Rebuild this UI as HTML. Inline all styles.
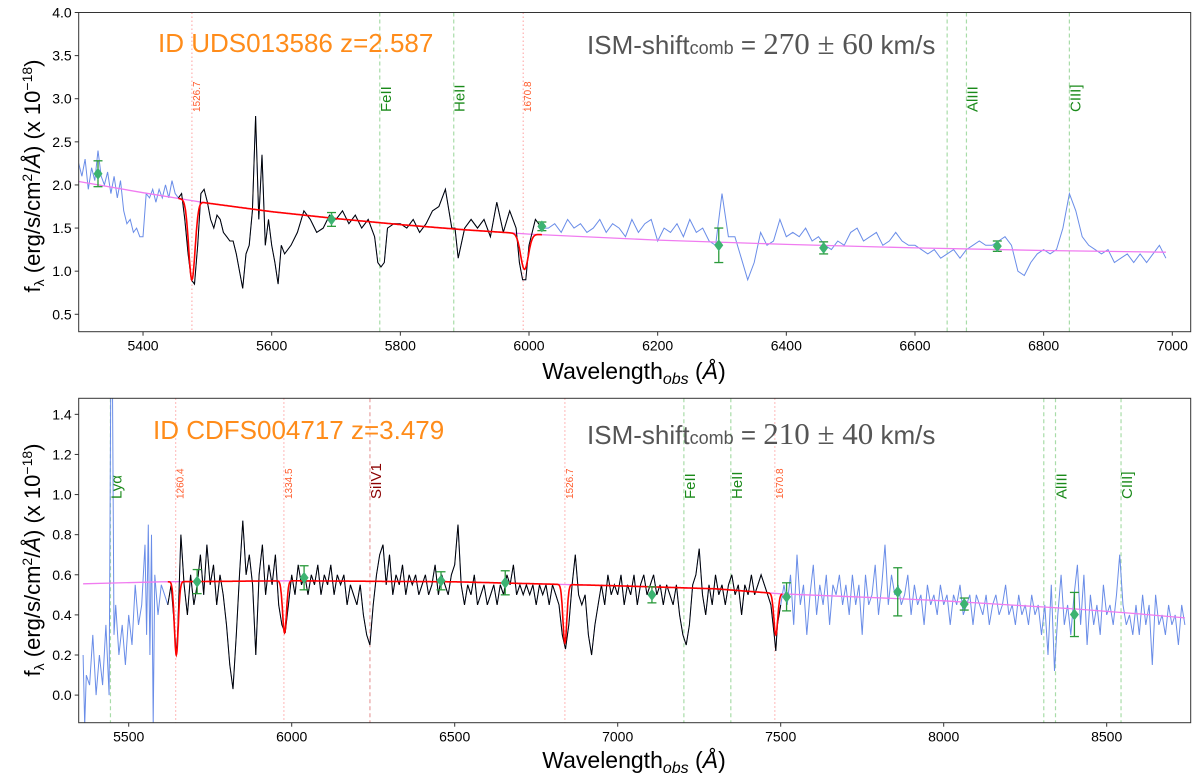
<!DOCTYPE html>
<html><head><meta charset="utf-8"><style>
html,body{margin:0;padding:0;background:#fff;}
svg{display:block;font-family:"Liberation Sans","DejaVu Sans",sans-serif;}
</style></head><body>
<svg id="chart" width="1200" height="781" viewBox="0 0 1200 781" xmlns="http://www.w3.org/2000/svg">
<defs>
<clipPath id="clipTop"><rect x="78.7" y="12.5" width="1112" height="319.2"/></clipPath>
<clipPath id="clipBot"><rect x="78.7" y="398.3" width="1112" height="324.4"/></clipPath>
</defs>
</svg>
<script>
// ---------- TOP PANEL DATA ----------
const topWave = [5300,5305,5310,5315,5320,5325,5330,5335,5340,5345,5350,5355,5360,5365,5370,5375,5380,5385,5390,5395,5400,5405,5410,5415,5420,5425,5430,5435,5440,5445,5450,5455,5460,5465,5470,5475,5480,5485,5490,5495,5500,5505,5510,5515,5520,5525,5530,5535,5540,5545,5550,5555,5560,5565,5570,5575,5580,5585,5590,5595,5600,5605,5610,5615,5620,5630,5640,5650,5660,5670,5680,5690,5700,5710,5720,5730,5740,5750,5760,5765,5770,5775,5780,5790,5800,5810,5820,5830,5840,5850,5860,5870,5880,5885,5890,5900,5910,5920,5930,5940,5950,5960,5970,5980,5985,5990,5995,6000,6010,6020,6030,6040,6050,6060,6070,6080,6090,6100,6110,6120,6130,6140,6150,6160,6170,6180,6190,6200,6210,6220,6230,6240,6250,6260,6270,6280,6290,6300,6310,6320,6330,6340,6350,6360,6370,6380,6390,6400,6410,6420,6430,6440,6450,6460,6470,6480,6490,6500,6510,6520,6530,6540,6550,6560,6570,6580,6590,6600,6610,6620,6630,6640,6650,6660,6670,6680,6690,6700,6710,6720,6730,6740,6750,6760,6770,6780,6790,6800,6810,6820,6830,6840,6850,6860,6870,6880,6890,6900,6910,6920,6930,6940,6950,6960,6970,6980,6990];
const topFlux = [2.25,2.1,2.3,1.95,2.2,2.05,2.4,2.1,2.0,2.15,1.9,2.1,1.85,2.05,1.7,1.55,1.6,1.45,1.5,1.4,1.4,1.9,1.85,1.95,1.8,1.95,1.85,2.0,1.85,2.05,1.9,1.85,1.9,1.6,1.2,0.9,0.85,1.3,1.9,1.95,1.8,1.6,1.5,1.65,1.6,1.45,1.4,1.35,1.35,1.2,1.0,0.8,1.2,1.3,1.7,2.8,1.6,2.35,1.3,1.6,1.3,1.1,0.85,1.3,1.2,1.3,1.45,1.7,1.6,1.45,1.5,1.65,1.6,1.7,1.55,1.65,1.5,1.6,1.4,1.1,1.05,1.1,1.5,1.55,1.55,1.5,1.6,1.45,1.55,1.7,1.75,1.95,1.5,1.5,1.15,1.5,1.6,1.5,1.6,1.4,1.8,1.45,1.7,1.5,1.1,0.9,0.9,1.3,1.6,1.5,1.5,1.55,1.45,1.6,1.5,1.55,1.45,1.5,1.6,1.45,1.55,1.5,1.4,1.6,1.45,1.55,1.6,1.35,1.5,1.45,1.55,1.4,1.6,1.45,1.5,1.35,1.3,1.9,1.4,1.4,1.15,0.9,1.1,1.45,1.3,1.35,1.6,1.4,1.45,1.4,1.5,1.35,1.4,1.3,1.25,1.35,1.3,1.45,1.5,1.35,1.4,1.45,1.3,1.35,1.45,1.35,1.3,1.3,1.25,1.2,1.25,1.15,1.2,1.25,1.15,1.25,1.3,1.35,1.3,1.3,1.35,1.4,1.3,1.0,0.95,1.1,1.2,1.25,1.2,1.25,1.5,1.9,1.7,1.4,1.3,1.25,1.2,1.25,1.1,1.15,1.2,1.1,1.2,1.1,1.2,1.3,1.15,1.2];
const topBlackRange = [5455, 6020];
const topContWave = [5300,5400,5500,5600,5700,5800,5900,6000,6200,6400,6600,6800,6990];
const topContFlux = [2.04,1.91,1.79,1.69,1.61,1.54,1.48,1.43,1.36,1.31,1.27,1.24,1.22];
const topFitRange = [5455, 6020];
const topDipCenter = [5476, 5993];
const topDipMin = [0.9, 1.02];
const topDipSigma = [5, 6];
const topPtWave = [5330, 5693, 6020, 6295, 6458, 6728];
const topPtFlux = [2.13, 1.60, 1.52, 1.30, 1.27, 1.29];
const topPtErr = [0.15, 0.08, 0.05, 0.20, 0.07, 0.06];
const topLineWave = [5476, 5991, 5768, 5883, 6650, 6680, 6840];
const topLineLabel = ["1526.7", "1670.8", "FeII", "HeII", "", "AlIII", "CIII]"];
const topLineKind = ["ism", "ism", "em", "em", "em", "em", "em"];
const topXTicks = [5400, 5600, 5800, 6000, 6200, 6400, 6600, 6800, 7000];
const topYTicks = [0.5, 1.0, 1.5, 2.0, 2.5, 3.0, 3.5, 4.0];

// ---------- BOTTOM PANEL DATA ----------
const botWave = [5360,5365,5370,5380,5390,5400,5410,5420,5430,5440,5445,5450,5455,5460,5470,5480,5490,5500,5510,5520,5530,5540,5550,5555,5560,5565,5570,5575,5580,5590,5600,5610,5620,5630,5640,5645,5650,5660,5670,5680,5690,5700,5710,5720,5730,5740,5750,5760,5770,5780,5790,5800,5810,5820,5830,5840,5850,5860,5870,5880,5890,5900,5910,5920,5930,5940,5950,5960,5970,5980,5990,6000,6010,6020,6030,6040,6050,6060,6070,6080,6090,6100,6110,6120,6130,6140,6150,6160,6170,6180,6190,6200,6210,6220,6230,6240,6250,6260,6270,6280,6290,6300,6310,6320,6330,6340,6350,6360,6370,6380,6390,6400,6410,6420,6430,6440,6450,6460,6470,6480,6490,6500,6510,6520,6530,6540,6550,6560,6570,6580,6590,6600,6610,6620,6630,6640,6650,6660,6670,6680,6690,6700,6710,6720,6730,6740,6750,6760,6770,6780,6790,6800,6810,6820,6830,6840,6850,6860,6870,6880,6890,6900,6910,6920,6930,6940,6950,6960,6970,6980,6990,7000,7010,7020,7030,7040,7050,7060,7070,7080,7090,7100,7110,7120,7130,7140,7150,7160,7170,7180,7190,7200,7210,7220,7230,7240,7250,7260,7270,7280,7290,7300,7310,7320,7330,7340,7350,7360,7370,7380,7390,7400,7410,7420,7430,7440,7450,7460,7470,7480,7485,7490,7500,7510,7520,7530,7540,7550,7560,7570,7580,7590,7600,7610,7620,7630,7640,7650,7660,7670,7680,7690,7700,7710,7720,7730,7740,7750,7760,7770,7780,7790,7800,7810,7820,7830,7840,7850,7860,7870,7880,7890,7900,7910,7920,7930,7940,7950,7960,7970,7980,7990,8000,8010,8020,8030,8040,8050,8060,8070,8080,8090,8100,8110,8120,8130,8140,8150,8160,8170,8180,8190,8200,8210,8220,8230,8240,8250,8260,8270,8280,8290,8300,8310,8320,8330,8340,8350,8360,8370,8380,8390,8400,8410,8420,8430,8440,8450,8460,8470,8480,8490,8500,8510,8520,8530,8540,8550,8560,8570,8580,8590,8600,8610,8620,8630,8640,8650,8660,8670,8680,8690,8700,8710,8720,8730,8740];
const botFlux = [0.2,-0.15,0.1,0.05,0.3,0.0,0.2,0.05,0.35,0.0,1.6,1.6,0.3,0.45,0.2,0.35,0.15,0.4,0.25,0.55,0.35,0.45,0.75,0.3,0.85,0.2,0.8,-0.14,0.6,0.4,0.55,0.5,0.45,0.55,0.35,0.2,0.3,0.8,0.55,0.4,0.6,0.45,0.55,0.7,0.5,0.75,0.55,0.65,0.45,0.6,0.5,0.35,0.15,0.03,0.3,0.6,0.87,0.6,0.7,0.55,0.2,0.6,0.75,0.5,0.65,0.55,0.7,0.45,0.35,0.31,0.45,0.6,0.5,0.65,0.55,0.6,0.5,0.6,0.55,0.65,0.5,0.6,0.55,0.65,0.5,0.6,0.55,0.6,0.45,0.55,0.5,0.45,0.55,0.4,0.3,0.25,0.45,0.6,0.7,0.75,0.55,0.7,0.5,0.6,0.55,0.65,0.5,0.6,0.55,0.6,0.5,0.55,0.6,0.5,0.55,0.65,0.5,0.6,0.55,0.5,0.6,0.65,0.85,0.55,0.45,0.55,0.5,0.6,0.45,0.5,0.55,0.45,0.5,0.55,0.45,0.55,0.5,0.6,0.55,0.65,0.5,0.55,0.5,0.55,0.5,0.55,0.45,0.55,0.5,0.55,0.45,0.55,0.5,0.45,0.3,0.23,0.35,0.55,0.7,0.5,0.45,0.5,0.3,0.2,0.35,0.45,0.55,0.45,0.6,0.5,0.55,0.5,0.6,0.45,0.55,0.5,0.6,0.45,0.55,0.6,0.5,0.55,0.6,0.5,0.55,0.45,0.55,0.5,0.45,0.55,0.4,0.3,0.25,0.35,0.55,0.6,0.73,0.5,0.4,0.55,0.45,0.6,0.5,0.55,0.45,0.55,0.6,0.5,0.55,0.4,0.55,0.5,0.6,0.5,0.55,0.6,0.55,0.5,0.45,0.3,0.22,0.35,0.45,0.55,0.45,0.6,0.35,0.7,0.45,0.55,0.3,0.5,0.65,0.4,0.55,0.45,0.6,0.35,0.55,0.5,0.6,0.45,0.55,0.4,0.6,0.45,0.55,0.3,0.6,0.45,0.5,0.65,0.4,0.55,0.75,0.45,0.6,0.5,0.55,0.45,0.5,0.6,0.4,0.55,0.45,0.5,0.35,0.55,0.45,0.5,0.4,0.55,0.45,0.5,0.35,0.5,0.45,0.55,0.4,0.45,0.5,0.35,0.5,0.45,0.4,0.5,0.35,0.45,0.5,0.4,0.45,0.55,0.4,0.45,0.35,0.5,0.4,0.45,0.35,0.5,0.4,0.45,0.3,0.45,0.2,0.55,0.12,0.4,0.6,0.35,0.45,0.3,0.5,0.65,0.35,0.6,0.25,0.5,0.35,0.45,0.3,0.55,0.4,0.45,0.35,0.5,0.7,0.45,0.35,0.4,0.3,0.45,0.3,0.5,0.35,0.45,0.15,0.5,0.35,0.4,0.3,0.45,0.35,0.4,0.25,0.45,0.35];
const botBlackRange = [5620, 7500];
const botContWave = [5360,5600,6000,6500,7000,7300,7500,7800,8000,8200,8400,8600,8740];
const botContFlux = [0.555,0.565,0.57,0.565,0.545,0.53,0.505,0.485,0.47,0.45,0.43,0.405,0.385];
const botFitRange = [5620, 7505];
const botDipCenter = [5646, 5978, 6838, 7485];
const botDipMin = [0.2, 0.31, 0.26, 0.3];
const botDipSigma = [6, 6, 6, 6];
const botPtWave = [5710, 6038, 6458, 6655, 7105, 7518, 7859, 8063, 8401];
const botPtFlux = [0.566, 0.585, 0.57, 0.56, 0.50, 0.49, 0.515, 0.454, 0.402];
const botPtErr = [0.06, 0.06, 0.045, 0.06, 0.04, 0.07, 0.12, 0.03, 0.11];
const botLineWave = [5444, 5644, 5976, 6240, 6838, 7203, 7347, 7482, 8307, 8343, 8544];
const botLineLabel = ["Lyα", "1260.4", "1334.5", "SiIV1", "1526.7", "FeII", "HeII", "1670.8", "", "AlIII", "CIII]"];
const botLineKind = ["em", "ism", "ism", "si", "ism", "em", "em", "ism", "em", "em", "em"];
const botXTicks = [5500, 6000, 6500, 7000, 7500, 8000, 8500];
const botYTicks = [0.0, 0.2, 0.4, 0.6, 0.8, 1.0, 1.2, 1.4];

const NS = "http://www.w3.org/2000/svg";
const svg = document.getElementById("chart");
function mk(tag, attrs, parent) {
  const e = document.createElementNS(NS, tag);
  for (const k in attrs) e.setAttribute(k, attrs[k]);
  (parent || svg).appendChild(e);
  return e;
}

function drawPanel(P) {
  const X = l => P.x0 + (l - P.xmin) / (P.xmax - P.xmin) * (P.x1 - P.x0);
  const Y = v => P.y1 - (v - P.ymin) / (P.ymax - P.ymin) * (P.y1 - P.y0);
  const g = mk("g", {});
  
  
  const clip = mk("g", {"clip-path": "url(#" + P.clip + ")"}, g);

  P.lineWave.forEach((w, i) => {
    const kind = P.lineKind[i];
    const col = kind === "ism" ? "#ffb0b0" : kind === "si" ? "#e8a0a0" : "#a8dca8";
    const dash = kind === "ism" ? "1.5,2.5" : "4,3";
    const ln = mk("line", {x1: X(w), x2: X(w), y1: P.y0, y2: P.y1, stroke: col, "stroke-width": 1.2, "stroke-dasharray": dash}, clip);
    
    
    if (P.lineLabel[i]) {
      const small = kind === "ism";
      const tcol = kind === "ism" ? "#ff5a2a" : kind === "si" ? "#8b0000" : "#1a8a1a";
      const tx = X(w) + (small ? 8 : 11);
      const ty = P.labelBottom;
      const t = mk("text", {x: tx, y: ty, fill: tcol, "font-size": small ? 10 : 15,
        transform: "rotate(-90 " + tx + " " + ty + ")"}, g);
      t.textContent = P.lineLabel[i];
      
      
    }
  });

  const pts = P.wave.map((w, i) => X(w).toFixed(1) + "," + Y(P.flux[i]).toFixed(1)).join(" ");
  const blue = mk("polyline", {points: pts, fill: "none", stroke: "#6a8de8", "stroke-width": 1}, clip);
  
  

  const cp = P.contWave.map((w, i) => X(w).toFixed(1) + "," + Y(P.contFlux[i]).toFixed(1)).join(" ");
  const cont = mk("polyline", {points: cp, fill: "none", stroke: "#f07cf0", "stroke-width": 1.3}, clip);
  
  

  const bp = [];
  P.wave.forEach((w, i) => { if (w >= P.blackRange[0] && w <= P.blackRange[1]) bp.push(X(w).toFixed(1) + "," + Y(P.flux[i]).toFixed(1)); });
  const blk = mk("polyline", {points: bp.join(" "), fill: "none", stroke: "#000", "stroke-width": 1}, clip);
  
  

  const contAt = l => {
    for (let i = 0; i < P.contWave.length - 1; i++) {
      if (l >= P.contWave[i] && l <= P.contWave[i + 1]) {
        const f = (l - P.contWave[i]) / (P.contWave[i + 1] - P.contWave[i]);
        return P.contFlux[i] + f * (P.contFlux[i + 1] - P.contFlux[i]);
      }
    }
    return P.contFlux[P.contFlux.length - 1];
  };
  const rp = [];
  for (let l = P.fitRange[0]; l <= P.fitRange[1]; l += 1) {
    const c = contAt(l);
    let f = 1;
    P.dipCenter.forEach((dc, j) => {
      const depth = 1 - P.dipMin[j] / contAt(dc);
      f *= 1 - depth * Math.exp(-0.5 * Math.pow((l - dc) / P.dipSigma[j], 2));
    });
    rp.push(X(l).toFixed(1) + "," + Y(c * f).toFixed(1));
  }
  const red = mk("polyline", {points: rp.join(" "), fill: "none", stroke: "#ff0000", "stroke-width": 1.6}, clip);
  
  

  P.ptWave.forEach((w, i) => {
    const x = X(w), y = Y(P.ptFlux[i]), ya = Y(P.ptFlux[i] + P.ptErr[i]), yb = Y(P.ptFlux[i] - P.ptErr[i]);
    const pg = mk("g", {}, g);
    
    
    mk("line", {x1: x, x2: x, y1: ya, y2: yb, stroke: "#2a9a3a", "stroke-width": 1.3}, pg);
    mk("line", {x1: x - 4.5, x2: x + 4.5, y1: ya, y2: ya, stroke: "#2a9a3a", "stroke-width": 1.3}, pg);
    mk("line", {x1: x - 4.5, x2: x + 4.5, y1: yb, y2: yb, stroke: "#2a9a3a", "stroke-width": 1.3}, pg);
    mk("path", {d: `M${x},${y - 6} L${x + 4.5},${y} L${x},${y + 6} L${x - 4.5},${y} Z`, fill: "#3cb371"}, pg);
  });

  const fr = mk("rect", {x: P.x0, y: P.y0, width: P.x1 - P.x0, height: P.y1 - P.y0, fill: "none", stroke: "#333", "stroke-width": 1}, g);
  
  

  P.xTicks.forEach(t => {
    const x = X(t);
    mk("line", {x1: x, x2: x, y1: P.y1, y2: P.y1 + 4, stroke: "#333"}, g);
    const tl = mk("text", {x: x, y: P.y1 + 19, "text-anchor": "middle", "font-size": 14, fill: "#000"}, g);
    tl.textContent = t;
    
    
  });
  P.yTicks.forEach(t => {
    const y = Y(t);
    mk("line", {x1: P.x0 - 4, x2: P.x0, y1: y, y2: y, stroke: "#333"}, g);
    const tl = mk("text", {x: P.x0 - 7, y: y + 5, "text-anchor": "end", "font-size": 14, fill: "#000"}, g);
    tl.textContent = t.toFixed(1);
    
    
  });
}

drawPanel({name: "top-panel", clip: "clipTop", x0: 78.7, x1: 1190.7, y0: 12.5, y1: 331.7,
  xmin: 5300, xmax: 7028.6, ymin: 0.298, ymax: 4.0, labelBottom: 112,
  wave: topWave, flux: topFlux, blackRange: topBlackRange, contWave: topContWave, contFlux: topContFlux,
  fitRange: topFitRange, dipCenter: topDipCenter, dipMin: topDipMin, dipSigma: topDipSigma,
  ptWave: topPtWave, ptFlux: topPtFlux, ptErr: topPtErr,
  lineWave: topLineWave, lineLabel: topLineLabel, lineKind: topLineKind, xTicks: topXTicks, yTicks: topYTicks});
drawPanel({name: "bottom-panel", clip: "clipBot", x0: 78.7, x1: 1190.7, y0: 398.3, y1: 722.7,
  xmin: 5346.6, xmax: 8757.7, ymin: -0.1376, ymax: 1.48, labelBottom: 499,
  wave: botWave, flux: botFlux, blackRange: botBlackRange, contWave: botContWave, contFlux: botContFlux,
  fitRange: botFitRange, dipCenter: botDipCenter, dipMin: botDipMin, dipSigma: botDipSigma,
  ptWave: botPtWave, ptFlux: botPtFlux, ptErr: botPtErr,
  lineWave: botLineWave, lineLabel: botLineLabel, lineKind: botLineKind, xTicks: botXTicks, yTicks: botYTicks});
</script>
<svg style="position:absolute;left:0;top:0" width="1200" height="781" xmlns="http://www.w3.org/2000/svg" font-family="Liberation Sans, DejaVu Sans, sans-serif">
  <text x="158" y="52" font-size="26" fill="#ff8c1a">ID UDS013586 z=2.587</text>
  <text x="587" y="54" font-size="26" fill="#555">ISM-shift<tspan font-size="18">comb</tspan> = <tspan font-family="Liberation Serif, serif" font-size="31">270 ± 60</tspan> km/s</text>
  <text x="153" y="439" font-size="26" fill="#ff8c1a">ID CDFS004717 z=3.479</text>
  <text x="587" y="444" font-size="26" fill="#555">ISM-shift<tspan font-size="18">comb</tspan> = <tspan font-family="Liberation Serif, serif" font-size="31">210 ± 40</tspan> km/s</text>
  <text x="634" y="379" text-anchor="middle" font-size="23" fill="#000">Wavelength<tspan font-size="16" font-style="italic" dy="5">obs</tspan><tspan dy="-5"> (</tspan><tspan font-style="italic">Å</tspan>)</text>
  <text x="634" y="768" text-anchor="middle" font-size="23" fill="#000">Wavelength<tspan font-size="16" font-style="italic" dy="5">obs</tspan><tspan dy="-5"> (</tspan><tspan font-style="italic">Å</tspan>)</text>
  <text transform="translate(40,176) rotate(-90)" text-anchor="middle" font-size="22" fill="#000">f<tspan font-size="14" dy="4">λ</tspan><tspan dy="-4"> (erg/s/cm</tspan><tspan font-size="14" dy="-8">2</tspan><tspan dy="8">/</tspan><tspan font-style="italic">Å</tspan>) (x 10<tspan font-size="14" dy="-8">−18</tspan><tspan dy="8">)</tspan></text>
  <text transform="translate(40,560) rotate(-90)" text-anchor="middle" font-size="22" fill="#000">f<tspan font-size="14" dy="4">λ</tspan><tspan dy="-4"> (erg/s/cm</tspan><tspan font-size="14" dy="-8">2</tspan><tspan dy="8">/</tspan><tspan font-style="italic">Å</tspan>) (x 10<tspan font-size="14" dy="-8">−18</tspan><tspan dy="8">)</tspan></text>
</svg>
</body></html>
